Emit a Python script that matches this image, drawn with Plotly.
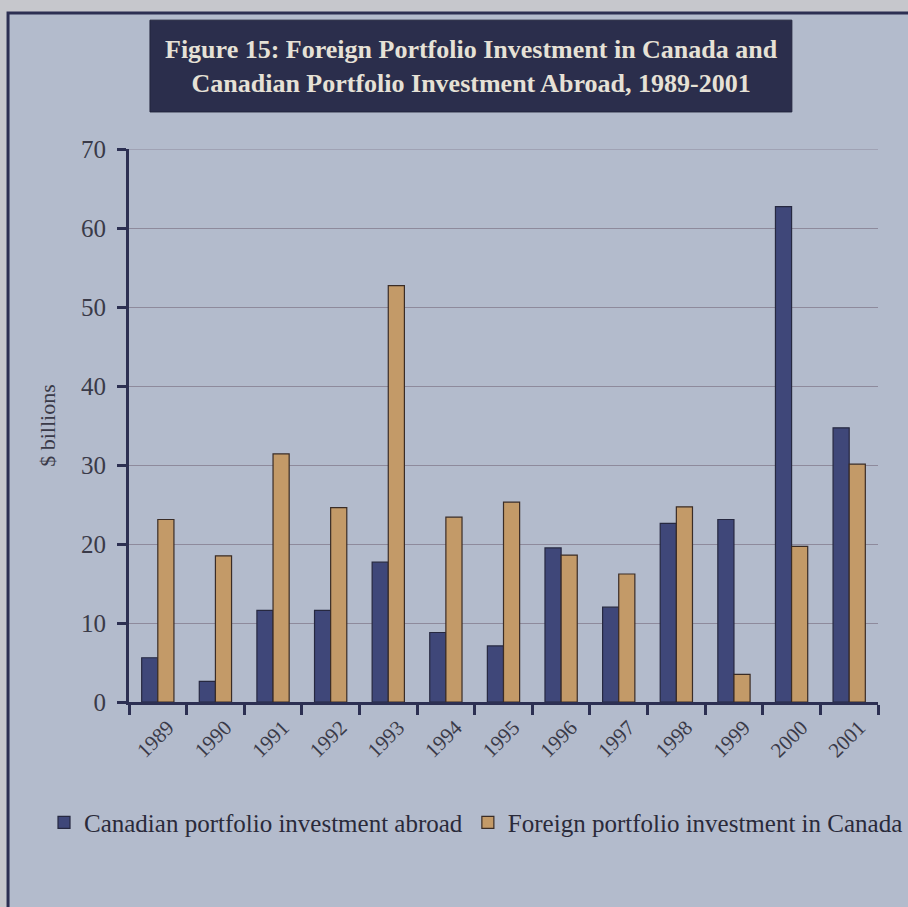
import plotly.graph_objects as go

years = ["1989", "1990", "1991", "1992", "1993", "1994", "1995",
         "1996", "1997", "1998", "1999", "2000", "2001"]
abroad = [5.6, 2.6, 11.6, 11.6, 17.7, 8.8, 7.1, 19.5, 12.0, 22.6, 23.1, 62.7, 34.7]
foreign = [23.1, 18.5, 31.4, 24.6, 52.7, 23.4, 25.3, 18.6, 16.2, 24.7, 3.5, 19.7, 30.1]
y_ticks = [0, 10, 20, 30, 40, 50, 60, 70]

SERIF = "Liberation Serif, Times New Roman, serif"
NAVY = "#2c2f52"

fig = go.Figure()

fig.add_trace(go.Bar(
    x=years, y=abroad, name="Canadian portfolio investment abroad",
    marker=dict(color="#3f4779", line=dict(color="#262840", width=1.2)),
))
fig.add_trace(go.Bar(
    x=years, y=foreign, name="Foreign portfolio investment in Canada",
    marker=dict(color="#c39a68", line=dict(color="#3a2c26", width=1.2)),
))

# outer frame of the scanned figure
fig.add_shape(type="rect", xref="paper", yref="paper",
              x0=-0.1615, x1=1.06, y0=-0.40, y1=1.246,
              fillcolor="#b3bbcc", line=dict(color=NAVY, width=3), layer="below")

# dark title box
fig.add_shape(type="rect", xref="paper", yref="paper",
              x0=0.028, x1=0.885, y0=1.067, y1=1.233,
              fillcolor="#2b2e4c", line=dict(color="#23253d", width=1), layer="below")

# top gridline (plotly drops the one at the range edge)
fig.add_shape(type="line", xref="paper", yref="y",
              x0=0, x1=1, y0=y_ticks[-1], y1=y_ticks[-1],
              line=dict(color="#8e8a9c", width=1), layer="below")

fig.add_annotation(
    xref="paper", yref="paper", x=0.457, y=1.150, showarrow=False,
    text="<b>Figure 15: Foreign Portfolio Investment in Canada and<br>"
         "Canadian Portfolio Investment Abroad, 1989-2001</b>",
    font=dict(family=SERIF, size=26, color="#e6e1d6"),
    align="center", xanchor="center", yanchor="middle",
)

fig.update_layout(
    width=908, height=907,
    margin=dict(l=129, r=30, t=149, b=205),
    paper_bgcolor="#c6c7cc",
    plot_bgcolor="rgba(0,0,0,0)",
    barmode="group", bargap=0.44, bargroupgap=0,
    font=dict(family=SERIF, color="#3a3a48"),
    showlegend=True,
    legend=dict(orientation="h", x=-0.108, xanchor="left",
                y=-0.218, yanchor="middle",
                font=dict(family=SERIF, size=25, color="#2a2a3a"),
                bgcolor="rgba(0,0,0,0)", itemwidth=30, tracegroupgap=0),
)

fig.update_xaxes(
    type="category", tickson="boundaries", tickangle=-45,
    ticks="outside", ticklen=10, tickwidth=3, tickcolor=NAVY,
    showline=True, linecolor=NAVY, linewidth=3,
    showgrid=False, ticklabelstandoff=2, ticklabelshift=10,
    tickfont=dict(family=SERIF, size=21, color="#3a3a48"),
)
fig.update_yaxes(
    range=[0, 70], tickvals=y_ticks,
    ticks="outside", ticklen=9, tickwidth=3, tickcolor=NAVY,
    showline=True, linecolor=NAVY, linewidth=3,
    showgrid=True, gridcolor="#8e8a9c", gridwidth=1, zeroline=False,
    ticklabelstandoff=6,
    tickfont=dict(family=SERIF, size=25, color="#3a3a48"),
    title=dict(text="$ billions", font=dict(family=SERIF, size=22, color="#3a3a48"), standoff=20),
)

fig.write_html("out.html", config={"displayModeBar": False},
               post_script="document.body.style.margin='0';")
